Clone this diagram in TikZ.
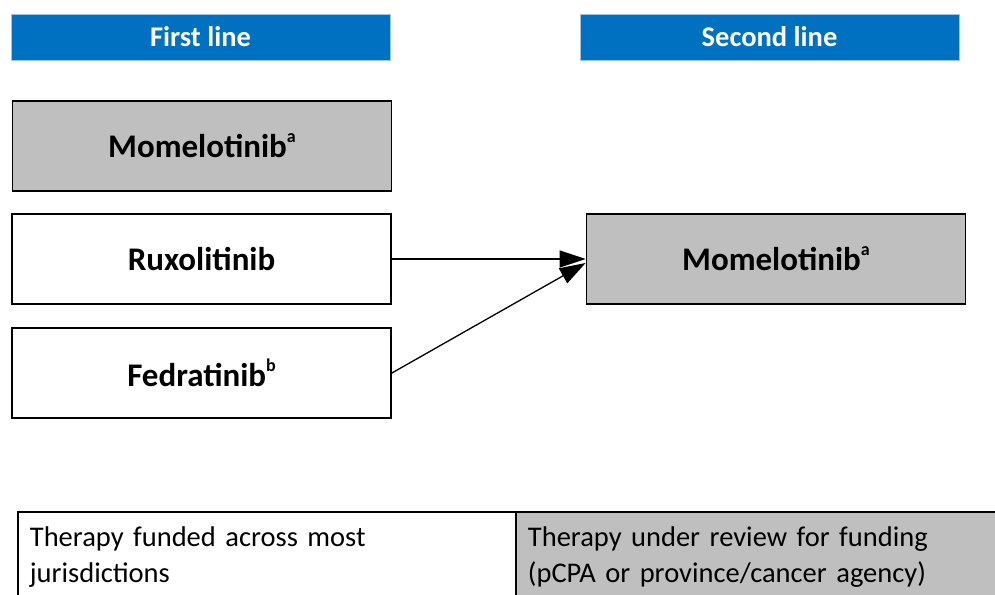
\documentclass[tikz,border=0pt]{standalone}
\usepackage{fontspec}
\setmainfont{Carlito}
\usetikzlibrary{arrows.meta}

\definecolor{headblue}{RGB}{0,112,192}
\definecolor{headedge}{RGB}{157,195,230}
\definecolor{boxgray}{RGB}{191,191,191}

\newcommand{\notemark}[1]{\raisebox{15pt}{\fontsize{18}{18}\selectfont #1}}

\tikzset{
  header/.style={rectangle, fill=headblue, draw=headedge, line width=0.8pt,
    minimum width=379, minimum height=46, inner sep=0pt, text=white,
    font=\fontsize{28.5}{34}\selectfont\bfseries},
  drugbox/.style={rectangle, draw=black, line width=1.8pt,
    minimum width=379, minimum height=90, inner sep=0pt,
    font=\fontsize{33}{40}\selectfont\bfseries},
  legbox/.style={rectangle, draw=black, line width=1.8pt, anchor=north west,
    minimum height=90, inner xsep=12pt, inner ysep=0pt, align=left,
    font=\fontsize{28.5}{35.5}\selectfont},
  flow/.style={line width=1.3pt, -{Triangle[length=26pt,width=17pt]}}
}

\begin{document}
\begin{tikzpicture}[x=1pt, y=-1pt]
    \clip (0,0) rectangle (995,594);

    % Headers
    \node[header] (firsthead) at (200.5,37) {First line};
    \node[header] (secondhead) at (769.5,37) {Second line};

    % First line therapies
    \node[drugbox, fill=boxgray] (momeone) at (202,146) {Momelotinib\notemark{a}};
    \node[drugbox, fill=white] (ruxo) at (201.5,259) {Ruxolitinib};
    \node[drugbox, fill=white] (fedra) at (201.5,373) {Fedratinib\notemark{b}};

    % Second line therapy
    \node[drugbox, fill=boxgray] (mometwo) at (776,259) {Momelotinib\notemark{a}};

    % Arrows
    \draw[flow] (ruxo.east) -- (mometwo.west);
    \draw[flow] (fedra.east) -- ([yshift=-4pt]mometwo.west);

    % Legend
    \node[legbox, fill=white, minimum width=498, text width=474] (fundleg) at (17,511)
        {Therapy funded across most\\jurisdictions};
    \node[legbox, fill=boxgray, minimum width=490, text width=466] (reviewleg) at (515,511)
        {Therapy under review for funding\\(pCPA or province/cancer agency)};
\end{tikzpicture}
\end{document}
